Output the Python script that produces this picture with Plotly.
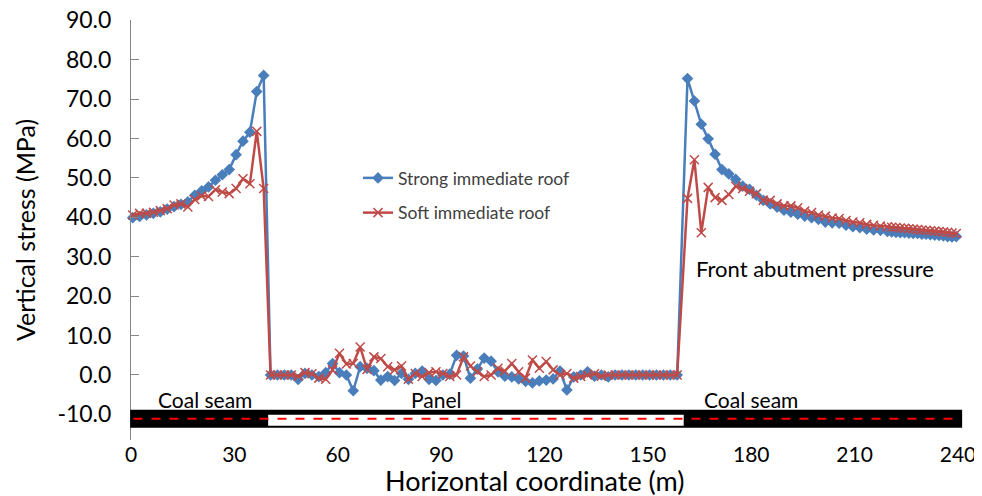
import plotly.graph_objects as go

# ---------------- data ----------------
x_left = [0.5, 2.5, 4.5, 6.5, 8.5, 10.5, 12.5, 14.5, 16.5, 18.5,
          20.5, 22.5, 24.5, 26.5, 28.5, 30.5, 32.5, 34.5, 36.5, 38.5]
strong_left = [39.9, 40.2, 40.6, 41.0, 41.4, 42.1, 42.7, 43.3, 43.9, 45.6,
               46.7, 47.7, 49.4, 50.8, 52.1, 55.9, 59.3, 61.6, 71.9, 76.0]
soft_left = [40.6, 41.0, 41.0, 41.3, 41.7, 42.2, 43.1, 43.4, 42.6, 44.5,
             45.4, 45.3, 47.0, 46.4, 46.0, 47.3, 49.8, 48.5, 61.8, 47.3]

x_panel = [40.5, 42.5, 44.5, 46.5, 48.5, 50.5, 52.5, 54.5, 56.5, 58.5,
           60.5, 62.5, 64.5, 66.5, 68.5, 70.5, 72.5, 74.5, 76.5, 78.5,
           80.5, 82.5, 84.5, 86.5, 88.5, 90.5, 92.5, 94.5, 96.5, 98.5,
           100.5, 102.5, 104.5, 106.5, 108.5, 110.5, 112.5, 114.5, 116.5, 118.5,
           120.5, 122.5, 124.5, 126.5, 128.5, 130.5, 132.5, 134.5, 136.5, 138.5,
           140.5, 142.5, 144.5, 146.5, 148.5, 150.5, 152.5, 154.5, 156.5, 158.5]
strong_panel = [0, 0, 0, 0, -1.1, 0.4, 0, -0.4, 0.6, 2.9,
                0.6, 0, -4.0, 2.1, 1.7, 1.1, -1.3, -0.4, -1.4, 0.4,
                -1.1, 0.4, 1.0, -1.1, -1.4, 0, 0.2, 5.0, 4.8, -0.8,
                1.5, 4.3, 3.5, 0.8, -0.3, -0.5, -1.0, -1.6, -2.0, -1.5,
                -1.3, -1.0, 1.0, -3.8, -0.5, 0, 0.8, -0.3, 0, -0.5,
                0, 0, 0, 0, 0, 0, 0, 0, 0, 0]
soft_panel = [0, 0, 0, 0, -0.3, 0.6, 0.3, -0.8, -1.1, 1.3,
              5.5, 2.8, 2.9, 7.1, 1.4, 4.6, 4.2, 2.1, 1.3, 2.3,
              -1.1, 0.4, -0.4, 0.6, 0.8, 0.4, -0.4, 0, 4.6, 2.3,
              0.8, -0.4, 0, 1.7, 1.0, 2.9, 0.8, -0.8, 3.8, 1.7,
              3.4, 1.3, 0, 0.4, -0.8, -0.4, 0, 0.3, -0.3, 0,
              0, 0, 0, 0, 0, 0, 0, 0, 0, 0]

x_right = [161.5, 163.5, 165.5, 167.5, 169.5, 171.5, 173.5, 175.5, 177.5, 179.5,
           181.5, 183.5, 185.5, 187.5, 189.5, 191.5, 193.5, 195.5, 197.5, 199.5,
           201.5, 203.5, 205.5, 207.5, 209.5, 211.5, 213.5, 215.5, 217.5,
           219.5, 220.75, 222.0, 223.25, 224.5, 225.75, 227.0, 228.25, 229.5,
           230.75, 232.0, 233.25, 234.5, 235.75, 237.0, 238.25, 239.5]
strong_right = [75.2, 69.5, 63.6, 59.9, 56.0, 52.1, 51.0, 49.6, 47.9, 47.1,
                45.6, 44.3, 43.4, 42.6, 41.8, 41.3, 40.8, 40.3, 39.9, 39.5,
                38.8, 38.6, 38.5, 38.0, 37.6, 37.4, 37.0, 36.8, 36.7,
                36.4, 36.3, 36.2, 36.1, 36.1, 36.0, 35.9, 35.9, 35.7,
                35.7, 35.6, 35.5, 35.4, 35.3, 35.1, 35.0, 35.1]
soft_right = [44.8, 54.6, 36.1, 47.6, 45.0, 44.3, 45.8, 47.9, 47.3, 46.6,
              46.0, 44.3, 44.3, 43.4, 42.9, 42.9, 42.4, 41.6, 41.2, 40.6,
              40.3, 39.8, 39.7, 39.2, 38.8, 38.6, 38.2, 38.0, 37.8,
              37.6, 37.5, 37.4, 37.3, 37.2, 37.1, 37.0, 36.9, 36.8,
              36.7, 36.6, 36.5, 36.4, 36.3, 36.2, 36.0, 35.9]

x_ticks = [0, 30, 60, 90, 120, 150, 180, 210, 240]
y_ticks = [90, 80, 70, 60, 50, 40, 30, 20, 10, 0, -10]
y_ticktext = ["90.0", "80.0", "70.0", "60.0", "50.0", "40.0", "30.0",
              "20.0", "10.0", "0.0", "-10.0"]

x_all = x_left + x_panel + x_right
strong_all = strong_left + strong_panel + strong_right
soft_all = soft_left + soft_panel + soft_right

BLUE = "#4A7EBB"
RED = "#BE4B48"
GRID = "#868686"
FONT = "Lato, Carlito, 'Open Sans', sans-serif"

fig = go.Figure()
fig.add_trace(go.Scatter(
    x=x_all, y=strong_all, mode="lines+markers", name="Strong immediate roof",
    legendgroup="a", cliponaxis=False,
    line=dict(color=BLUE, width=2.5),
    marker=dict(symbol="diamond", size=9, color=BLUE)))
fig.add_trace(go.Scatter(
    x=x_all, y=soft_all, mode="lines+markers", name="Soft immediate roof",
    legendgroup="b", cliponaxis=False,
    line=dict(color=RED, width=2.5),
    marker=dict(symbol="x-thin", size=9, color=RED,
                line=dict(color=RED, width=1.5))))

# plot area geometry (figure pixels; page body adds an 8px offset)
H, W = 488, 974
top, bottom = 12, 432
left, right = 123, 950
ymin, ymax = -16.49, 90.05
pos0 = (0 - ymin) / (ymax - ymin)

# coal seam / panel bar (layout decoration)
fig.add_shape(type="rect", xref="paper", yref="y", x0=-0.001, x1=1.005,
              y0=-8.8, y1=-13.4, fillcolor="black", line=dict(width=0), layer="above")
fig.add_shape(type="rect", xref="x", yref="y", x0=39.8, x1=160.4,
              y0=-10.1, y1=-12.85, fillcolor="white", line=dict(width=0), layer="above")
fig.add_shape(type="line", xref="paper", yref="y", x0=0.003, x1=1.0,
              y0=-11.1, y1=-11.1, line=dict(color="#FF0000", width=2, dash="dash"),
              layer="above")

ann_font = dict(family=FONT, size=21, color="black")
fig.add_annotation(x=21.6, y=-6.1, text="Coal seam", showarrow=False, font=ann_font)
fig.add_annotation(x=88.6, y=-6.1, text="Panel", showarrow=False, font=ann_font)
fig.add_annotation(x=179.8, y=-6.1, text="Coal seam", showarrow=False, font=ann_font)
fig.add_annotation(x=198.6, y=27.0, text="Front abutment pressure", showarrow=False,
                   font=dict(family=FONT, size=22, color="black"))
# x axis title
fig.add_annotation(xref="paper", yref="paper", xanchor="center", yanchor="middle",
                   x=(527 - left) / (right - left), y=(bottom - 472) / (bottom - top),
                   text="Horizontal coordinate (m)", showarrow=False,
                   font=dict(family=FONT, size=27, color="black"))

fig.update_layout(
    width=W, height=H,
    margin=dict(l=left, r=W - right, t=top, b=H - bottom, pad=0),
    paper_bgcolor="white", plot_bgcolor="white",
    font=dict(family=FONT, color="black"),
    showlegend=True,
    legend=dict(x=(350 - left) / (right - left), y=(bottom - 152) / (bottom - top),
                xanchor="left", yanchor="top", bgcolor="rgba(0,0,0,0)",
                font=dict(family=FONT, size=17.5, color="#404040"),
                tracegroupgap=9, itemwidth=30),
    xaxis=dict(range=[0, 240], tickvals=x_ticks, showline=False, showgrid=False,
               zeroline=False, ticks="", automargin=False, ticklabeloverflow="allow",
               tickfont=dict(size=21, family=FONT)),
    xaxis2=dict(range=[0, 240], overlaying="x", anchor="free", position=pos0,
                side="bottom", tickvals=x_ticks, showticklabels=False, automargin=False,
                showline=True, linecolor=GRID, linewidth=1, ticks="inside",
                ticklen=7, tickcolor=GRID, showgrid=False, zeroline=False),
    yaxis=dict(range=[ymin, ymax], tickvals=y_ticks, ticktext=y_ticktext,
               showline=True, linecolor=GRID, linewidth=1, ticks="inside",
               ticklen=8, tickcolor=GRID, showgrid=False, zeroline=False,
               automargin=False, ticklabeloverflow="allow",
               tickfont=dict(size=23, family=FONT), ticklabelstandoff=14,
               title=dict(text="Vertical stress (MPa)", font=dict(size=25, family=FONT),
                          standoff=14)),
)

fig.write_html("out.html")
